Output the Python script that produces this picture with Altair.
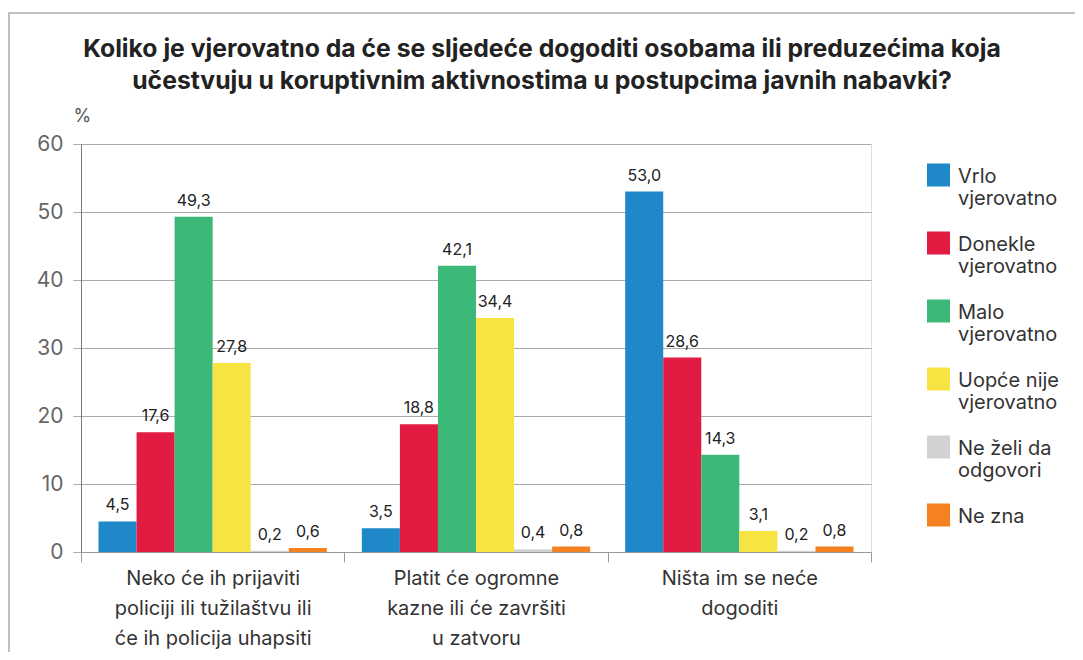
import altair as alt
import pandas as pd

title_lines = [
    "Koliko je vjerovatno da će se sljedeće dogoditi osobama ili preduzećima koja",
    "učestvuju u koruptivnim aktivnostima u postupcima javnih nabavki?",
]
categories = [
    "Neko će ih prijaviti policiji ili tužilaštvu ili će ih policija uhapsiti",
    "Platit će ogromne kazne ili će završiti u zatvoru",
    "Ništa im se neće dogoditi",
]
category_lines = [
    ["Neko će ih prijaviti", "policiji ili tužilaštvu ili", "će ih policija uhapsiti"],
    ["Platit će ogromne", "kazne ili će završiti", "u zatvoru"],
    ["Ništa im se neće", "dogoditi"],
]
series = [
    "Vrlo vjerovatno",
    "Donekle vjerovatno",
    "Malo vjerovatno",
    "Uopće nije vjerovatno",
    "Ne želi da odgovori",
    "Ne zna",
]
series_lines = [
    ["Vrlo", "vjerovatno"],
    ["Donekle", "vjerovatno"],
    ["Malo", "vjerovatno"],
    ["Uopće nije", "vjerovatno"],
    ["Ne želi da", "odgovori"],
    ["Ne zna", " "],
]
colors = ["#1f88c9", "#e21b42", "#3cb878", "#f7e442", "#d1d2d4", "#f58221"]

vrlo = [4.5, 3.5, 53.0]
donekle = [17.6, 18.8, 28.6]
malo = [49.3, 42.1, 14.3]
uopce = [27.8, 34.4, 3.1]
ne_zeli = [0.2, 0.4, 0.2]
ne_zna = [0.6, 0.8, 0.8]
y_ticks = [0, 10, 20, 30, 40, 50, 60]

values_by_series = [vrlo, donekle, malo, uopce, ne_zeli, ne_zna]
rows = []
for s, vals in zip(series, values_by_series):
    for c, v in zip(categories, vals):
        rows.append({"kategorija": c, "odgovor": s, "vrijednost": v})
df = pd.DataFrame(rows)


def lines_expr(names, lines):
    def arr(ls):
        return "[" + ",".join("'" + l + "'" for l in ls) + "]"
    expr = "datum.label"
    for n, ls in reversed(list(zip(names, lines))):
        expr = f"datum.label == '{n}' ? {arr(ls)} : ({expr})"
    return expr


FONT = "Inter"
TFONT = "Inter"
W, H = 790, 408

base = alt.Chart(df)

x_enc = alt.X(
    "kategorija:N",
    sort=categories,
    title=None,
    scale=alt.Scale(paddingInner=0, paddingOuter=0),
    axis=alt.Axis(
        labelExpr=lines_expr(categories, category_lines),
        labelAngle=0,
        labelFontSize=20,
        labelColor="#333333",
        labelLineHeight=30,
        labelPadding=6,
        labelLimit=400,
        tickBand="extent",
        tickSize=10,
        tickColor="#999999",
        domainColor="#999999",
        labelFont=FONT,
    ),
)
xoff_enc = alt.XOffset(
    "odgovor:N", sort=series, scale=alt.Scale(paddingInner=0, paddingOuter=0.46)
)
y_enc = alt.Y(
    "vrijednost:Q",
    scale=alt.Scale(domain=[0, 60], nice=False),
    axis=alt.Axis(
        values=y_ticks,
        title="%",
        titleAngle=0,
        titleAlign="left",
        titleBaseline="bottom",
        titleX=-8,
        titleY=-19,
        titleFontSize=18,
        titleFontWeight="normal",
        titleColor="#555555",
        titleFont=FONT,
        labelFontSize=21,
        labelColor="#666666",
        labelFont=FONT,
        labelPadding=10,
        tickSize=8,
        tickColor="#aaaaaa",
        gridColor="#aaaaaa",
        domainColor="#777777",
        grid=True,
    ),
)

legend_symbol = "M-1,-1.13H1V0.87H-1Z"

bars = base.mark_bar().encode(
    x=x_enc,
    xOffset=xoff_enc,
    y=y_enc,
    color=alt.Color(
        "odgovor:N",
        sort=series,
        scale=alt.Scale(domain=series, range=colors),
        legend=alt.Legend(
            title=None,
            orient="none",
            legendX=846,
            legendY=21,
            padding=0,
            symbolType=legend_symbol,
            symbolSize=529,
            symbolStrokeWidth=0,
            symbolOpacity=1,
            labelExpr=lines_expr(series, series_lines),
            labelFontSize=20,
            labelFont=FONT,
            labelColor="#333333",
            labelLimit=300,
            labelOffset=8,
            rowPadding=22,
        ),
    ),
)

labels = base.transform_calculate(
    txt="replace(format(datum.vrijednost, '.1f'), '.', ',')"
).mark_text(
    baseline="bottom", dy=-8, fontSize=16, font=FONT, color="#222222"
).encode(
    x=alt.X("kategorija:N", sort=categories),
    xOffset=alt.XOffset("odgovor:N", sort=series),
    y="vrijednost:Q",
    text="txt:N",
)

frame = alt.Chart(alt.Data(values=[{"f": 1}])).mark_rect(
    fillOpacity=0, stroke="#aaaaaa", strokeWidth=1.5
).encode(
    x=alt.value(-72), x2=alt.value(1300), y=alt.value(-131), y2=alt.value(1000)
)

chart = alt.layer(frame, bars, labels).properties(
    width=W,
    height=H,
    autosize=alt.AutoSizeParams(type="none"),
    padding={"left": 73, "top": 136, "right": 204, "bottom": 100},
    title=alt.Title(
        title_lines,
        anchor="middle",
        dx=66,
        dy=81,
        offset=0,
        fontSize=24.75,
        font=TFONT,
        fontWeight="bold",
        color="#222222",
        lineHeight=32,
    ),
).configure_view(stroke=None).configure(background="white")

chart.save("out.html", embed_options={"renderer": "svg", "actions": False})
